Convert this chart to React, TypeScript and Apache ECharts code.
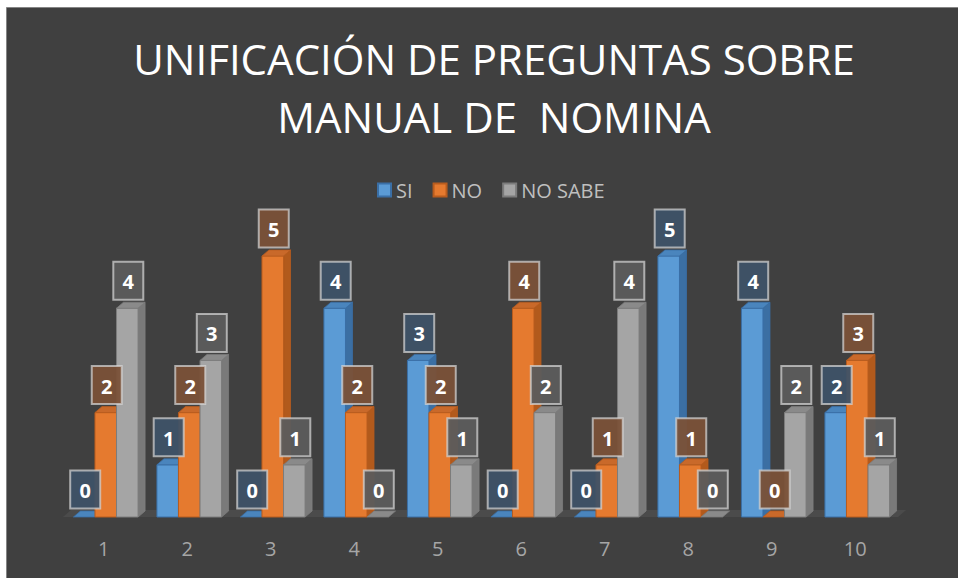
import React, { useEffect, useRef } from "react";
import * as echarts from "echarts";

const categories = ["1", "2", "3", "4", "5", "6", "7", "8", "9", "10"];
const seriesNames = ["SI", "NO", "NO SABE"];
const siValues = [0, 1, 0, 4, 3, 0, 0, 5, 4, 2];
const noValues = [2, 2, 5, 2, 2, 4, 1, 1, 0, 3];
const noSabeValues = [4, 3, 1, 0, 1, 2, 4, 0, 2, 1];
const titleText = "UNIFICACIÓN DE PREGUNTAS SOBRE\nMANUAL DE  NOMINA";

const seriesValues = [siValues, noValues, noSabeValues];

const palette = [
  { front: "#5b9bd5", side: "#3b6fa3", top: "#4a85bd", edge: "#3a6fa6", box: "#3e5267" },
  { front: "#e57a2f", side: "#b25a1c", top: "#c9692a", edge: "#b85c1e", box: "#7a5138" },
  { front: "#a5a5a5", side: "#7a7a7a", top: "#8a8a8a", edge: "#7c7c7c", box: "#5c5c5c" },
];

const DX = 7;
const DY = 6;
const FONT = "'Open Sans', 'DejaVu Sans', sans-serif";

function geom(api: any, sIdx: number) {
  const cat = api.value(0);
  const val = api.value(1);
  const base = api.coord([cat, 0]);
  const top = api.coord([cat, val]);
  const band = api.size([1, 0])[0];
  const w = band * 0.258;
  const x0 = base[0] - 1.5 * w + sIdx * w + 2;
  return { x0, w, yb: base[1], yt: top[1], val };
}

function barRenderer(sIdx: number) {
  return (params: any, api: any) => {
    const { x0, w, yb, yt } = geom(api, sIdx);
    const c = palette[sIdx];
    const h = yb - yt;
    const children: any[] = [];
    if (h > 0.5) {
      children.push({
        type: "polygon",
        shape: { points: [[x0 + w, yt], [x0 + w + DX, yt - DY], [x0 + w + DX, yb - DY], [x0 + w, yb]] },
        style: { fill: c.side, stroke: c.edge, lineWidth: 0.8 },
      });
      children.push({
        type: "rect",
        shape: { x: x0, y: yt, width: w, height: h },
        style: { fill: c.front, stroke: c.edge, lineWidth: 1 },
      });
    }
    children.push({
      type: "polygon",
      shape: { points: [[x0, yt], [x0 + DX, yt - DY], [x0 + w + DX, yt - DY], [x0 + w, yt]] },
      style: { fill: c.top, stroke: c.edge, lineWidth: 0.8 },
    });
    return { type: "group", children };
  };
}

function labelRenderer(sIdx: number) {
  return (params: any, api: any) => {
    const { x0, w, yt, val } = geom(api, sIdx);
    const c = palette[sIdx];
    const bw = 30;
    const bh = 38;
    const cx = x0 + w / 2 + 1;
    const bottom = yt - 8.5;
    return {
      type: "group",
      children: [
        {
          type: "rect",
          shape: { x: cx - bw / 2, y: bottom - bh, width: bw, height: bh },
          style: { fill: c.box, stroke: "rgba(215,215,215,0.75)", lineWidth: 2, opacity: 0.95 },
        },
        {
          type: "text",
          style: {
            x: cx,
            y: bottom - bh / 2 + 1,
            text: String(val),
            fill: "#ffffff",
            font: `bold 20px ${FONT}`,
            align: "center",
            verticalAlign: "middle",
          },
        },
      ],
    };
  };
}

export default function App() {
  const ref = useRef<HTMLDivElement>(null);

  useEffect(() => {
    if (!ref.current) return;
    const chart = echarts.init(ref.current, undefined, { renderer: "svg" });

    const barSeries = seriesValues.map((vals, sIdx) => ({
      type: "custom",
      name: seriesNames[sIdx],
      data: vals.map((v, i) => [i, v]),
      encode: { x: 0, y: 1 },
      renderItem: barRenderer(sIdx),
      itemStyle: { color: palette[sIdx].front, borderColor: palette[sIdx].edge, borderWidth: 1 },
      z: 2,
      clip: false,
    }));
    const labelSeries = seriesValues.map((vals, sIdx) => ({
      type: "custom",
      name: seriesNames[sIdx] + " etiqueta",
      data: vals.map((v, i) => [i, v]),
      encode: { x: 0, y: 1 },
      renderItem: labelRenderer(sIdx),
      z: 10,
      clip: false,
      silent: true,
    }));

    chart.setOption({
      animation: false,
      backgroundColor: "#ffffff",
      color: palette.map((p) => p.front),
      title: {
        text: titleText,
        left: 489,
        textAlign: "center",
        top: 24,
        textStyle: {
          color: "#ffffff",
          fontFamily: FONT,
          fontSize: 42,
          fontWeight: "normal",
          lineHeight: 58,
        },
      },
      legend: {
        data: seriesNames,
        top: 175,
        left: 372,
        icon: "rect",
        itemWidth: 13,
        itemHeight: 13,
        itemGap: 20,
        textStyle: { color: "#bfbfbf", fontSize: 20, fontFamily: FONT },
      },
      graphic: [
        {
          type: "rect",
          z: 0,
          shape: { x: 6.5, y: 7.5, width: 960, height: 580 },
          style: { fill: "#404040", stroke: "#858585", lineWidth: 1 },
        },
        {
          type: "polygon",
          z: 1,
          shape: { points: [[63, 517], [898, 517], [906, 510], [71, 510]] },
          style: { fill: "#4b4b4b" },
        },
      ],
      grid: { left: 62, right: 61, top: 256, bottom: 61 },
      xAxis: {
        type: "category",
        data: categories,
        axisLine: { show: false },
        axisTick: { show: false },
        axisLabel: { color: "#a6a6a6", fontSize: 20, fontFamily: FONT, margin: 21 },
        splitLine: { show: false },
      },
      yAxis: {
        type: "value",
        min: 0,
        max: 5,
        interval: 1,
        show: false,
        splitLine: { show: false },
      },
      series: [...barSeries, ...labelSeries],
    });

    return () => chart.dispose();
  }, []);

  return (
    <div
      ref={ref}
      style={{ position: "fixed", left: 0, top: 0, width: 958, height: 578 }}
    />
  );
}
